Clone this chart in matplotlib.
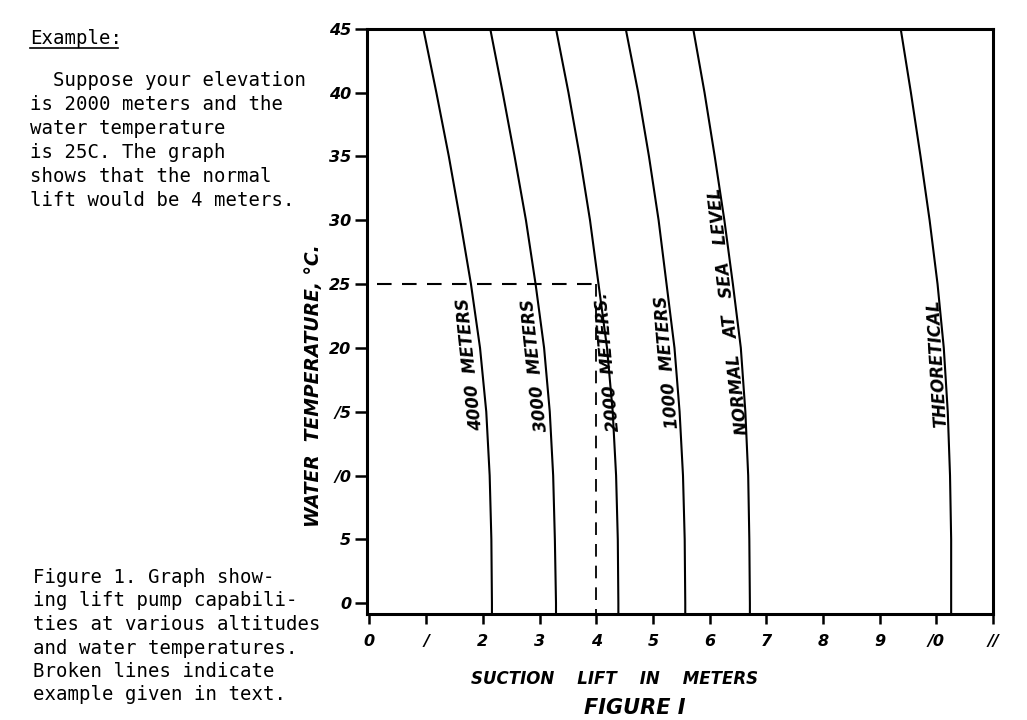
import numpy as np
import matplotlib
matplotlib.use("Agg")
import matplotlib.pyplot as plt
from matplotlib.lines import Line2D

# === data ===
temps = [-1, 0, 5, 10, 15, 20, 25, 30, 35, 40, 45]
lift_4000 = [2.16, 2.16, 2.15, 2.12, 2.06, 1.95, 1.79, 1.60, 1.40, 1.18, 0.95]
lift_3000 = [3.29, 3.29, 3.27, 3.24, 3.18, 3.08, 2.93, 2.76, 2.56, 2.35, 2.13]
lift_2000 = [4.39, 4.39, 4.38, 4.35, 4.29, 4.19, 4.04, 3.89, 3.71, 3.51, 3.29]
lift_1000 = [5.57, 5.57, 5.56, 5.53, 5.47, 5.38, 5.24, 5.10, 4.93, 4.74, 4.52]
lift_sea = [6.71, 6.71, 6.70, 6.68, 6.63, 6.55, 6.41, 6.26, 6.09, 5.91, 5.71]
lift_theory = [10.26, 10.26, 10.26, 10.24, 10.20, 10.13, 10.02, 9.88, 9.72, 9.55, 9.37]

curves = [lift_4000, lift_3000, lift_2000, lift_1000, lift_sea, lift_theory]
curve_labels = ["4000  METERS", "3000  METERS", "2000  METERS.", "1000  METERS",
                "NORMAL   AT   SEA   LEVEL", "THEORETICAL"]
label_x = [1.77, 2.92, 4.21, 5.25, 6.34, 10.02]
label_y = [18.7, 18.65, 18.9, 18.9, 22.9, 18.8]
label_rot = [96, 96, 95, 95, 96.5, 93.5]

example_temp = 25
example_lift = 4.04

xticks = list(range(0, 12))
xtick_labels = ["0", "/", "2", "3", "4", "5", "6", "7", "8", "9", "/0", "//"]
yticks = list(range(0, 50, 5))
ytick_labels = ["0", "5", "/0", "/5", "20", "25", "30", "35", "40", "45"]

hand = dict(family="DejaVu Sans", weight="bold", style="oblique")

fig = plt.figure(figsize=(10.27, 7.2), dpi=100)
ax = fig.add_axes([0.357, 0.147, 0.610, 0.813])

for c in curves:
    ax.plot(c, temps, color="black", lw=1.5)

for txt, x, y, r in zip(curve_labels, label_x, label_y, label_rot):
    ax.text(x, y, txt, rotation=r, ha="center", va="center", fontsize=12,
            rotation_mode="anchor", **hand)

# broken lines of the example
ax.plot([0.14, example_lift], [example_temp, example_temp], color="black",
        lw=1.5, dashes=(7, 5))
ax.plot([4.0, 4.0], [example_temp, -1], color="black", lw=1.3, dashes=(7, 5))

ax.set_xlim(-0.05, 11.0)
ax.set_ylim(-0.86, 45)
ax.set_xticks(xticks)
ax.set_xticklabels(xtick_labels, fontsize=11.5, **hand)
ax.set_yticks(yticks)
ax.set_yticklabels(ytick_labels, fontsize=11.5, **hand)
ax.tick_params(axis="y", length=9, width=1.8, pad=2)
ax.tick_params(axis="x", length=7, width=1.8, pad=7)
for s in ax.spines.values():
    s.set_linewidth(2.2)

ax.set_xlabel("SUCTION    LIFT    IN    METERS", fontsize=12, **hand)
ax.xaxis.set_label_coords(0.396, -0.096)
ax.set_ylabel("WATER  TEMPERATURE, \u00b0C.", fontsize=13.5, **hand)
ax.yaxis.set_label_coords(-0.069, 0.39)

fig.text(0.618, 0.017, "FIGURE I", fontsize=15, ha="center", va="center", **hand)

mono = dict(family="DejaVu Sans Mono", fontsize=13.7, color="black")
fig.text(30 / 1027, 1 - 38 / 720, "Example:", ha="left", va="center", **mono)
fig.add_artist(Line2D([30 / 1027, 118 / 1027], [1 - 48 / 720, 1 - 48 / 720],
                      color="black", lw=1.2))
fig.text(30 / 1027, 1 - 71 / 720,
         "  Suppose your elevation\nis 2000 meters and the\nwater temperature\n"
         "is 25C. The graph\nshows that the normal\nlift would be 4 meters.",
         ha="left", va="top", linespacing=1.33, **mono)
fig.text(33 / 1027, 1 - 568 / 720,
         "Figure 1. Graph show-\ning lift pump capabili-\nties at various altitudes\n"
         "and water temperatures.\nBroken lines indicate\nexample given in text.",
         ha="left", va="top", linespacing=1.3, **mono)

fig.savefig("out.png", dpi=100)
